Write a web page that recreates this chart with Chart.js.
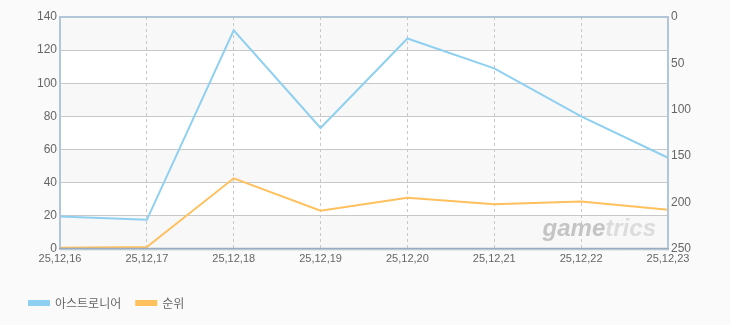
<!DOCTYPE html>
<html><head><meta charset="utf-8">
<script src="https://cdn.jsdelivr.net/npm/chart.js@4/dist/chart.umd.min.js"></script>
<style>
html,body{margin:0;padding:0;background:#fafafa;}
#wrap{width:730px;height:325px;position:relative;}
</style></head>
<body><div id="wrap"><canvas id="c" width="730" height="325"></canvas></div>
<script>
const categories = ['25,12,16','25,12,17','25,12,18','25,12,19','25,12,20','25,12,21','25,12,22','25,12,23'];
const seriesA = [19.5, 17.5, 132, 73, 127, 109, 80, 55];      // 아스트로니어 (left axis)
const seriesRank = [249, 248, 174, 209, 195, 202, 199, 208]; // 순위 (right axis, reversed)
const leftTicks = {min:0, max:140, step:20};
const rightTicks = {min:0, max:250, step:50};
const seriesNames = ['아스트로니어','순위'];

const tickFont = {family:'"Liberation Sans", Arial, sans-serif', size:12};
const xTickFont = {family:'"Liberation Sans", Arial, sans-serif', size:11};

const bgPlugin = {
  id:'bgBands',
  beforeDraw(chart){
    const {ctx, chartArea:a, scales} = chart;
    const y = scales.y;
    ctx.save();
    ctx.fillStyle = '#ffffff';
    ctx.fillRect(a.left, a.top, a.right-a.left, a.bottom-a.top);
    const t = y.ticks;
    for(let i=0;i<t.length-1;i++){
      if(i%2===0){
        const y1 = y.getPixelForValue(t[i].value), y2 = y.getPixelForValue(t[i+1].value);
        ctx.fillStyle = '#f8f8f8';
        ctx.fillRect(a.left, y2, a.right-a.left, y1-y2);
      }
    }
    ctx.restore();
  },
  afterDatasetsDraw(chart){
    const {ctx, chartArea:a} = chart;
    ctx.save();
    ctx.font = 'italic bold 24px "Liberation Sans", Arial, sans-serif';
    ctx.textBaseline = 'alphabetic';
    const w1 = ctx.measureText('game').width, w2 = ctx.measureText('trics').width;
    const xr = a.right - 12, yb = a.bottom - 13;
    ctx.fillStyle = '#c4c4c4';
    ctx.fillText('game', xr - w1 - w2, yb);
    ctx.fillStyle = '#dcdcdc';
    ctx.fillText('trics', xr - w2, yb);
    ctx.lineWidth = 2;
    ctx.strokeStyle = '#b3c5d8';
    ctx.beginPath();
    ctx.moveTo(a.left, a.bottom); ctx.lineTo(a.left, a.top); ctx.lineTo(a.right, a.top); ctx.lineTo(a.right, a.bottom);
    ctx.stroke();
    ctx.strokeStyle = '#98abc0';
    ctx.beginPath(); ctx.moveTo(a.left-1, a.bottom); ctx.lineTo(a.right+1, a.bottom); ctx.stroke();
    ctx.strokeStyle = '#e2e6ea';
    ctx.lineWidth = 1;
    ctx.beginPath(); ctx.moveTo(a.left, a.bottom+1.5); ctx.lineTo(a.right+1, a.bottom+1.5); ctx.stroke();
    ctx.restore();
  }
};

new Chart(document.getElementById('c'), {
  type:'line',
  data:{
    labels: categories,
    datasets:[
      {label:seriesNames[0], data:seriesA, yAxisID:'y', borderColor:'#8fd0f1', backgroundColor:'#8fd0f1', borderWidth:2, pointRadius:0, tension:0},
      {label:seriesNames[1], data:seriesRank, yAxisID:'y2', borderColor:'#ffc05e', backgroundColor:'#ffc05e', borderWidth:2, pointRadius:0, tension:0}
    ]
  },
  options:{
    responsive:false, animation:false,
    layout:{padding:{left:14, right:36, top:17, bottom:6}},
    plugins:{
      legend:{position:'bottom', align:'start',
        labels:{boxWidth:20, boxHeight:4, padding:15, color:'#666', font:{family:'"Noto Sans CJK KR", sans-serif', size:12}}},
      tooltip:{enabled:false}
    },
    scales:{
      x:{
        grid:{color:'#c8c8c8', drawTicks:false},
        border:{display:false, dash:[3,3]},
        ticks:{color:'#666', font:xTickFont, maxRotation:0, padding:4, autoSkip:false},
        afterFit(s){ s.height += 12; }
      },
      y:{
        position:'left', min:leftTicks.min, max:leftTicks.max,
        grid:{color:'#c8c8c8', drawTicks:false},
        border:{display:false},
        ticks:{stepSize:leftTicks.step, color:'#666', font:tickFont, padding:3},
        afterFit(s){ s.width = 46; }
      },
      y2:{
        position:'right', reverse:true, min:rightTicks.min, max:rightTicks.max,
        grid:{display:false, drawTicks:false},
        border:{display:false},
        ticks:{stepSize:rightTicks.step, color:'#666', font:tickFont, padding:3}
      }
    }
  },
  plugins:[bgPlugin]
});
</script></body></html>
